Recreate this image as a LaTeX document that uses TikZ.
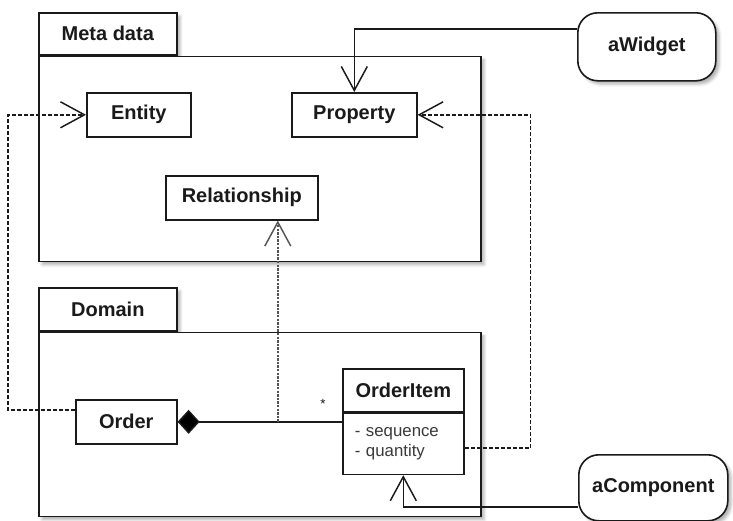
\documentclass[tikz,border=0pt]{standalone}
\usepackage{fontspec}
\setmainfont{Liberation Sans}
\usetikzlibrary{arrows.meta,shadows.blur}

\begin{document}
\begin{tikzpicture}[x=0.75pt,y=-0.75pt,
  boxClass/.style={draw=lineDark, fill=white, line width=1.2pt, inner sep=0pt,
    minimum height=33pt, text=lineDark, font=\fontsize{15}{18}\selectfont\bfseries},
  boxTab/.style={boxClass, minimum height=31.5pt, minimum width=103.5pt,
    blur shadow={shadow xshift=2.5pt, shadow yshift=-2.5pt, shadow opacity=30}},
  boxPkg/.style={draw=lineDark, fill=white, line width=1.2pt, inner sep=0pt,
    minimum width=331.5pt,
    blur shadow={shadow xshift=2.5pt, shadow yshift=-2.5pt, shadow opacity=30}},
  boxObj/.style={boxClass, rounded corners=15pt,
    blur shadow={shadow xshift=2.5pt, shadow yshift=-2.5pt, shadow opacity=30}},
  depLine/.style={draw=lineDark, line width=1.1pt, dash pattern=on 3pt off 1.5pt,
    -{Straight Barb[length=18pt,width=19.5pt]}},
  depFine/.style={depLine, draw=lineGray, dash pattern=on 1.8pt off 0.9pt},
  assocLine/.style={draw=lineDark, line width=1.1pt,
    -{Straight Barb[length=18pt,width=19.5pt]}},
  compLine/.style={draw=lineDark, line width=1.1pt,
    {Diamond[length=16.5pt,width=18pt,fill=black]}-}]

% Colori
\definecolor{lineDark}{HTML}{1A1A1A}
\definecolor{lineGray}{HTML}{555555}
\definecolor{attrGray}{HTML}{3A3A3A}

\useasboundingbox (0,0) rectangle (733,521);

% Pacchetto Meta data
\node[boxTab, anchor=north west] (metaTab) at (38,12) {Meta data};
\node[boxPkg, minimum height=153.75pt, anchor=north west] (metaBody) at (metaTab.south west) {};

\node[boxClass, minimum width=78pt, anchor=north west] (entity) at (86,92) {Entity};
\node[boxClass, minimum width=93.75pt, anchor=north west] (property) at (291,92) {Property};
\node[boxClass, minimum width=114pt, anchor=north west] (relation) at (165,175) {Relationship};

% Pacchetto Domain
\node[boxTab, minimum height=32.25pt, anchor=north west] (domTab) at (38,287) {Domain};
\node[boxPkg, minimum height=138pt, anchor=north west] (domBody) at (domTab.south west) {};

\node[boxClass, minimum width=75.75pt, anchor=north west] (order) at (75,399) {Order};
\node[boxClass, minimum width=90.75pt, minimum height=32.25pt, anchor=north west] (oiHead) at (342,368) {OrderItem};
\node[boxClass, minimum width=90.75pt, minimum height=45.75pt, anchor=north,
  text width=72.75pt, align=left, text=attrGray,
  font=\fontsize{12.6}{15}\selectfont] (oiBody) at (oiHead.south) {- sequence\\- quantity};

% Oggetti
\node[boxObj, minimum width=103.5pt, minimum height=51pt, anchor=north west] (widget) at (577,12) {aWidget};
\node[boxObj, minimum width=111.75pt, minimum height=49.5pt, anchor=north west] (component) at (578,454) {aComponent};

% Composizione Order - OrderItem
\draw[compLine] (order.east) -- (order.east -| oiBody.west);
\node[text=lineDark, font=\fontsize{10}{10}\selectfont] (molt) at (323,404) {*};

% Dipendenze
\draw[depLine] ([yshift=9pt]order.west) -- ++(-67,0) |- (entity.west);
\draw[depLine] ([yshift=-3pt]oiBody.east) -- ++(66,0) |- (property.east);
\draw[depFine] ([xshift=27pt]relation.south |- order.east) -- ([xshift=27pt]relation.south);

% Associazioni
\draw[assocLine] ([yshift=13.5pt]widget.west) -| (property.north);
\draw[assocLine] ([yshift=-14.25pt]component.west) -| (oiBody.south);
\end{tikzpicture}
\end{document}
